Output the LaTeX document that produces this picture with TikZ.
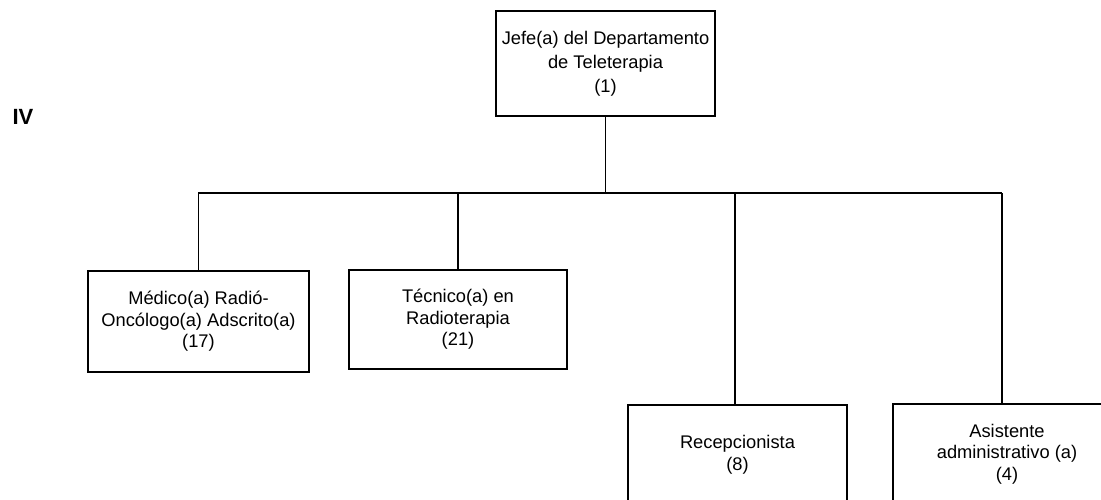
\documentclass[tikz,border=0pt]{standalone}
\usepackage{fontspec}
\setmainfont{Liberation Sans}
\begin{document}
\begin{tikzpicture}[x=1pt,y=-1pt,
  orgbox/.style={draw,line width=1.3pt,rectangle,align=center,inner sep=0pt,
    font=\fontsize{18.3}{21.5}\selectfont},
  link/.style={line width=1.2pt}]
\useasboundingbox (0,0) rectangle (1101,500);
\clip (0,0) rectangle (1101,500);
\node[font=\fontsize{22}{26}\selectfont\bfseries] (iv) at (23,117) {IV};
\node[orgbox,minimum width=219pt,minimum height=105pt,font=\fontsize{18.3}{24}\selectfont] (jefe) at (605.5,63.5) {Jefe(a) del Departamento\\de Teleterapia\\(1)};
\node[orgbox,minimum width=221pt,minimum height=101pt] (medico) at (198.5,321.5) {Médico(a) Radió-\\Oncólogo(a) Adscrito(a)\\(17)};
\node[orgbox,minimum width=218pt,minimum height=99pt] (tecnico) at (458,319.5) {Técnico(a) en\\Radioterapia\\(21)};
\node[orgbox,minimum width=219pt,minimum height=100pt] (recep) at (737.5,455) {Recepcionista\\(8)};
\node[orgbox,minimum width=228pt,minimum height=100pt] (asis) at (1007,454) {Asistente\\administrativo (a)\\(4)};
\coordinate (bl) at (198,193);
\coordinate (br) at (1002,193);
\draw[link] (bl) -- (br);
\draw[link] (jefe.south) -- (jefe.south |- bl);
\draw[link] (medico.north) -- (medico.north |- bl);
\draw[link] (tecnico.north) -- (tecnico.north |- bl);
\draw[link] ([xshift=-2.5pt]recep.north) -- ([xshift=-2.5pt]recep.north |- bl);
\draw[link] ([xshift=-5pt]asis.north) -- ([xshift=-5pt]asis.north |- br);
\end{tikzpicture}
\end{document}
